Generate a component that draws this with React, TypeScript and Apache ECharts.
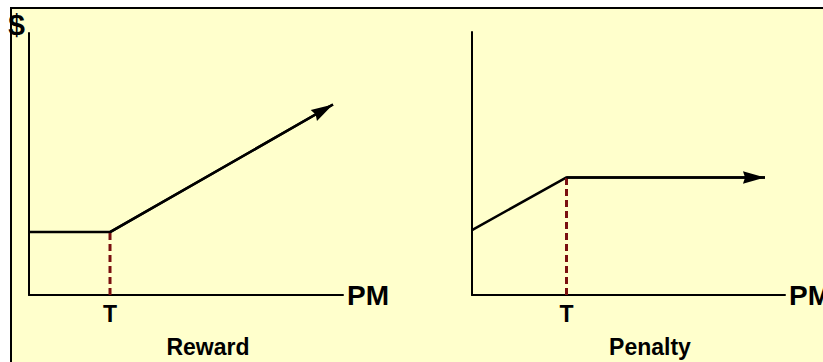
import React, { useEffect, useRef } from 'react';
import * as echarts from 'echarts';

const panelTitles = ['Reward', 'Penalty'];
const xAxisName = 'PM';
const yAxisNames = ['$', ''];
const thresholdLabel = 'T';
const thresholds = [25.8, 30.2];
const rewardPoints = [[0, 24], [25.8, 24], [96.8, 72.7]];
const penaltyPoints = [[0, 24.7], [30.2, 44.7], [93.6, 44.7]];
const seriesPoints = [rewardPoints, penaltyPoints];

const FONT = '"Liberation Sans", Arial, Helvetica, sans-serif';
const grids = [
  { left: 29, top: 33, width: 314, height: 262, outerBoundsMode: 'none', containLabel: false },
  { left: 472, top: 32, width: 313, height: 263, outerBoundsMode: 'none', containLabel: false },
];
const titleCenters = [208, 650];
const ARROW = 'path://M6,0 L12,21 L6,19 L0,21 Z';

export default function App() {
  const ref = useRef<HTMLDivElement>(null);
  useEffect(() => {
    document.body.style.margin = '0';
    const chart = echarts.init(ref.current!, null, { renderer: 'svg' });
    const axisLine = { show: true, lineStyle: { color: '#000', width: 2 } };
    chart.setOption({
      animation: false,
      backgroundColor: '#FFFFCC',
      textStyle: { fontFamily: FONT },
      graphic: [
        { type: 'rect', silent: true, shape: { x: 0, y: 0, width: 823, height: 7 }, style: { fill: '#fff' } },
        { type: 'rect', silent: true, shape: { x: 0, y: 0, width: 10, height: 362 }, style: { fill: '#fff' } },
        { type: 'line', silent: true, shape: { x1: 10, y1: 8, x2: 823, y2: 8 }, style: { stroke: '#000', lineWidth: 2 } },
        { type: 'line', silent: true, shape: { x1: 11, y1: 7, x2: 11, y2: 362 }, style: { stroke: '#000', lineWidth: 2 } },
      ],
      title: panelTitles.map((t, i) => ({
        text: t,
        left: titleCenters[i],
        top: 335,
        textAlign: 'center',
        padding: 0,
        textStyle: { fontSize: 23, fontWeight: 'bold', color: '#000', fontFamily: FONT },
      })),
      grid: grids,
      xAxis: grids.map((_, i) => ({
        gridIndex: i,
        type: 'value',
        min: 0,
        max: 100,
        name: xAxisName,
        nameLocation: 'end',
        nameGap: 4,
        nameTextStyle: { fontSize: 28, fontWeight: 'bold', color: '#000', fontFamily: FONT, padding: [4, 0, 0, 0] },
        axisLine,
        axisTick: { show: false },
        splitLine: { show: false },
        axisLabel: {
          customValues: [thresholds[i]],
          formatter: () => thresholdLabel,
          margin: 7,
          fontSize: 23,
          fontWeight: 'bold',
          color: '#000',
          fontFamily: FONT,
        },
      })),
      yAxis: grids.map((_, i) => ({
        gridIndex: i,
        type: 'value',
        min: 0,
        max: 100,
        name: yAxisNames[i],
        nameLocation: 'end',
        nameGap: 9,
        nameTextStyle: {
          fontSize: 30,
          fontWeight: 'bold',
          color: '#000',
          fontFamily: FONT,
          align: 'right',
          verticalAlign: 'middle',
          padding: [0, 4, 0, 0],
        },
        axisLine,
        axisTick: { show: false },
        axisLabel: { show: false },
        splitLine: { show: false },
      })),
      series: [
        ...seriesPoints.map((pts, i) => ({
          type: 'line',
          xAxisIndex: i,
          yAxisIndex: i,
          data: pts,
          symbol: 'none',
          silent: true,
          clip: false,
          lineStyle: { color: '#000', width: 2.5 },
          markLine: {
            silent: true,
            symbol: ['none', ARROW],
            symbolSize: 22,
            symbolKeepAspect: true,
            symbolOffset: [0, [0, 11]],
            itemStyle: { color: '#000' },
            lineStyle: { color: '#000', width: 2.5, type: 'solid' },
            label: { show: false },
            emphasis: { disabled: true },
            data: [[{ coord: pts[1] }, { coord: pts[2] }]],
          },
        })),
        ...seriesPoints.map((pts, i) => ({
          type: 'line',
          xAxisIndex: i,
          yAxisIndex: i,
          data: [[thresholds[i], 0], [thresholds[i], pts[1][1]]],
          symbol: 'none',
          silent: true,
          lineStyle: { color: '#7A1010', width: 3, type: [7, 4] },
        })),
      ],
    });
    return () => chart.dispose();
  }, []);
  return <div ref={ref} style={{ width: 823, height: 362 }} />;
}
